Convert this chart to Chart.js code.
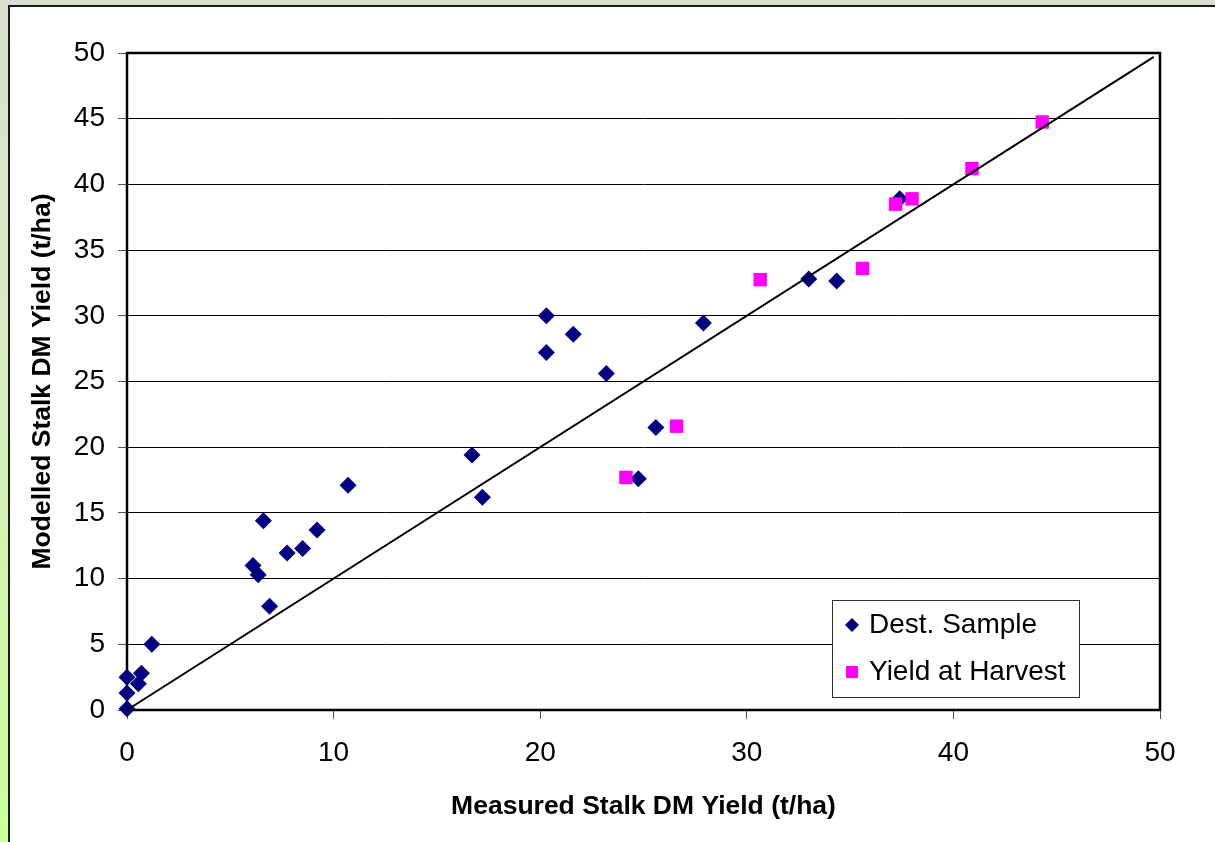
<!DOCTYPE html>
<html>
<head>
<meta charset="utf-8">
<script src="https://cdn.jsdelivr.net/npm/chart.js@4.4.1/dist/chart.umd.min.js"></script>
<style>
  html, body { margin: 0; padding: 0; }
  body {
    width: 1215px; height: 842px; overflow: hidden; position: relative;
    background: linear-gradient(to bottom, #d9e0cf 0%, #d6ecc0 45%, #ccff99 100%);
  }
  #panel {
    position: absolute; left: 8px; top: 5px; width: 1215px; height: 842px;
    background: #fff; border-top: 2px solid #1a1a1a; border-left: 2px solid #1a1a1a;
  }
  #chart { position: absolute; left: 0; top: 0; }
</style>
</head>
<body>
<div id="panel"></div>
<canvas id="chart" width="1215" height="842"></canvas>
<script>
// Dest. Sample (diamonds)
const destX = [0, 0, 0, 0.55, 0.7, 1.2, 6.1, 6.35, 6.6, 6.9, 7.75, 8.5, 9.2, 10.7,
               16.7, 17.2, 20.3, 20.3, 21.6, 23.2, 24.75, 25.6, 27.9, 33.0, 34.35, 37.4];
const destY = [0.1, 1.3, 2.5, 2.0, 2.8, 5.0, 11.0, 10.3, 14.4, 7.9, 11.95, 12.3, 13.7, 17.1,
               19.4, 16.2, 30.0, 27.2, 28.6, 25.6, 17.6, 21.5, 29.45, 32.8, 32.65, 38.9];

// Yield at Harvest (squares)
const harvX = [24.15, 26.6, 30.65, 35.6, 37.2, 38.0, 40.9, 44.3];
const harvY = [17.7, 21.6, 32.75, 33.6, 38.5, 38.9, 41.2, 44.75];

// 1:1 line
const oneToOne = [0, 49.7];

const legendItems = ['Dest. Sample', 'Yield at Harvest'];

const toPoints = (xs, ys) => xs.map((x, i) => ({ x: x, y: ys[i] }));

const frame = {
  id: 'frame',
  beforeDatasetsDraw(chart) {
    const { ctx, chartArea: a } = chart;
    ctx.save();
    ctx.strokeStyle = '#000';
    ctx.lineWidth = 2.5;
    ctx.strokeRect(a.left, a.top, a.right - a.left, a.bottom - a.top);
    ctx.restore();
  },
  afterDatasetsDraw(chart) {
    const { ctx, chartArea: a } = chart;
    ctx.save();
    // legend box
    const bx = a.right - 328, by = a.bottom - 110, bw = 247, bh = 97;
    ctx.fillStyle = '#fff';
    ctx.fillRect(bx, by, bw, bh);
    ctx.lineWidth = 1;
    ctx.strokeStyle = '#333';
    ctx.strokeRect(bx + 0.5, by + 0.5, bw, bh);

    ctx.font = '28px "Liberation Sans", Arial, sans-serif';
    ctx.textBaseline = 'middle';
    const rows = [by + 25, by + 72];
    const mx = bx + 20;
    ctx.fillStyle = '#000080';
    ctx.beginPath();
    ctx.moveTo(mx, rows[0] - 7);
    ctx.lineTo(mx + 7, rows[0]);
    ctx.lineTo(mx, rows[0] + 7);
    ctx.lineTo(mx - 7, rows[0]);
    ctx.closePath();
    ctx.fill();
    ctx.fillStyle = '#ff00ff';
    ctx.fillRect(mx - 6, rows[1] - 6, 12, 12);

    ctx.fillStyle = '#000';
    ctx.fillText(legendItems[0], bx + 37, rows[0]);
    ctx.fillText(legendItems[1], bx + 37, rows[1]);
    ctx.restore();
  }
};

new Chart(document.getElementById('chart'), {
  type: 'scatter',
  data: {
    datasets: [
      {
        type: 'line',
        data: toPoints(oneToOne, oneToOne),
        borderColor: '#000',
        borderWidth: 2,
        pointRadius: 0,
        fill: false,
        clip: false,
        order: 0
      },
      {
        label: legendItems[1],
        data: toPoints(harvX, harvY),
        pointStyle: 'rect',
        pointRadius: 9.5,
        backgroundColor: '#ff00ff',
        borderColor: '#ff00ff',
        borderWidth: 0,
        clip: false,
        order: 1
      },
      {
        label: legendItems[0],
        data: toPoints(destX, destY),
        pointStyle: 'rectRot',
        pointRadius: 8.5,
        backgroundColor: '#000080',
        borderColor: '#000080',
        borderWidth: 0,
        clip: false,
        order: 2
      }
    ]
  },
  options: {
    responsive: false,
    animation: false,
    devicePixelRatio: 1,
    layout: { padding: { left: 0, top: 53, right: 55, bottom: 0 } },
    scales: {
      x: {
        type: 'linear',
        min: 0,
        max: 50,
        afterFit: s => { s.height = 132; },
        ticks: {
          stepSize: 10,
          padding: 17,
          color: '#000',
          font: { family: '"Liberation Sans", Arial, sans-serif', size: 28 }
        },
        grid: { drawOnChartArea: false, tickLength: 9, color: '#555' },
        border: { display: false },
        title: {
          display: true,
          text: 'Measured Stalk DM Yield (t/ha)',
          color: '#000',
          padding: { top: 0, bottom: 19 },
          font: { family: '"Liberation Sans", Arial, sans-serif', size: 26.5, weight: 'bold' }
        }
      },
      y: {
        type: 'linear',
        min: 0,
        max: 50,
        afterFit: s => { s.width = 127; },
        ticks: {
          stepSize: 5,
          padding: 13,
          color: '#000',
          font: { family: '"Liberation Sans", Arial, sans-serif', size: 28 }
        },
        grid: { color: '#000', lineWidth: 1, tickLength: 9, tickColor: '#555' },
        border: { display: false },
        title: {
          display: true,
          text: 'Modelled Stalk DM Yield (t/ha)',
          color: '#000',
          padding: { top: 27, bottom: 0 },
          font: { family: '"Liberation Sans", Arial, sans-serif', size: 26.5, weight: 'bold' }
        }
      }
    },
    plugins: {
      legend: { display: false },
      tooltip: { enabled: false }
    }
  },
  plugins: [frame]
});
</script>
</body>
</html>
